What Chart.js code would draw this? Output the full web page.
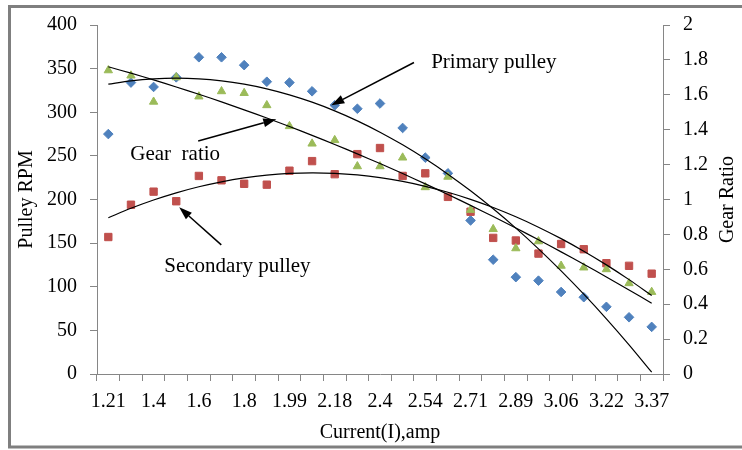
<!DOCTYPE html>
<html><head><meta charset="utf-8">
<script src="https://cdn.jsdelivr.net/npm/chart.js@4.4.0/dist/chart.umd.min.js"></script>
<style>html,body{margin:0;padding:0;background:#fff}#wrap{width:742px;height:450px;position:relative}</style>
</head><body><div id="wrap"><canvas id="c" width="742" height="450"></canvas></div>
<script>
// Categories (current, amp) - only every other category is labelled in the source chart
const currentLabels = ['1.21','','1.4','','1.6','','1.8','','1.99','','2.18','','2.4','','2.54','','2.71','','2.89','','3.06','','3.22','','3.37'];
// Primary pulley RPM (left axis)
const primaryRPM = [275,334,329,340,363,363,354,335,334,324,308,304,310,282,248,230,176,131,111,107,94,88,77,65,54];
// Secondary pulley RPM (left axis)
const secondaryRPM = [157,194,209,198,227,222,218,217,233,244,229,252,259,227,230,203,186,156,153,138,149,143,127,124,115];
// Gear ratio (right axis)
const gearRatio = [1.74,1.71,1.56,1.70,1.59,1.62,1.61,1.54,1.42,1.32,1.34,1.19,1.19,1.24,1.07,1.13,0.94,0.83,0.72,0.76,0.62,0.61,0.60,0.52,0.47];
// Axis ranges
const rpmAxis = {min:0, max:400, step:50};
const ratioAxis = {min:0, max:2, step:0.2};

// Polynomial (order 2) least-squares trendline, as in the source's trendlines
function quadTrend(ys){
  const n = ys.length;
  let S=[0,0,0,0,0], T=[0,0,0];
  for(let i=0;i<n;i++){
    const x=i+1, y=ys[i];
    let p=1;
    for(let k=0;k<5;k++){ S[k]+=p; if(k<3) T[k]+=p*y; p*=x; }
  }
  const A=[[S[0],S[1],S[2],T[0]],[S[1],S[2],S[3],T[1]],[S[2],S[3],S[4],T[2]]];
  for(let c=0;c<3;c++){
    let piv=c; for(let r=c+1;r<3;r++) if(Math.abs(A[r][c])>Math.abs(A[piv][c])) piv=r;
    [A[c],A[piv]]=[A[piv],A[c]];
    for(let r=0;r<3;r++){ if(r===c) continue; const f=A[r][c]/A[c][c]; for(let k=c;k<4;k++) A[r][k]-=f*A[c][k]; }
  }
  const a0=A[0][3]/A[0][0], a1=A[1][3]/A[1][1], a2=A[2][3]/A[2][2];
  return ys.map((_,i)=>{const x=i+1; return a0+a1*x+a2*x*x;});
}

const FONT = 'Liberation Serif, Times New Roman, serif';
Chart.defaults.color = '#000';
Chart.defaults.font.family = FONT;
const AX = '#868686';

const overlay = {
  id:'overlay',
  afterDatasetsDraw(chart){
    const ctx = chart.ctx, x = chart.scales.x, y = chart.scales.y;
    const P = (i,v)=>[x.getPixelForValue(i), y.getPixelForValue(v)];
    function arrow(from,to){
      const [x1,y1]=from,[x2,y2]=to;
      const ang=Math.atan2(y2-y1,x2-x1), L=13, W=4.5;
      const bx=x2-L*Math.cos(ang), by=y2-L*Math.sin(ang);
      ctx.save(); ctx.strokeStyle='#000'; ctx.fillStyle='#000'; ctx.lineWidth=1.5;
      ctx.beginPath(); ctx.moveTo(x1,y1); ctx.lineTo(bx,by); ctx.stroke();
      ctx.beginPath(); ctx.moveTo(x2,y2);
      ctx.lineTo(bx+W*Math.sin(ang), by-W*Math.cos(ang));
      ctx.lineTo(bx-W*Math.sin(ang), by+W*Math.cos(ang));
      ctx.closePath(); ctx.fill(); ctx.restore();
    }
    function label(text,pt){
      ctx.save(); ctx.font='21px '+FONT; ctx.fillStyle='#000'; ctx.textAlign='left'; ctx.textBaseline='middle';
      ctx.fillText(text,pt[0],pt[1]); ctx.restore();
    }
    arrow(P(13.5,357),P(9.85,308));
    label('Primary pulley',P(14.26,357));
    arrow(P(3.97,267),P(7.42,292));
    label('Gear  ratio',P(0.97,252));
    arrow(P(4.99,148),P(3.13,191));
    label('Secondary pulley',P(2.47,123));
  },
  afterDraw(chart){
    const ctx = chart.ctx, ca = chart.chartArea;
    ctx.save();
    ctx.font='20px '+FONT; ctx.fillStyle='#000'; ctx.textAlign='center'; ctx.textBaseline='middle';
    ctx.translate(728,(ca.top+ca.bottom)/2); ctx.rotate(-Math.PI/2);
    ctx.fillText('Gear Ratio',0,0);
    ctx.restore();
    ctx.save(); ctx.strokeStyle='#7f7f7f'; ctx.lineWidth=3;
    ctx.strokeRect(9.5,6.5,800,440.5); ctx.restore();
  }
};

new Chart(document.getElementById('c'), {
  type:'line',
  data:{
    labels: currentLabels,
    datasets:[
      {label:'Primary pulley', data:primaryRPM, yAxisID:'y', showLine:false, order:3,
       pointStyle:'rectRot', pointRadius:4.8, backgroundColor:'#4F81BD', borderColor:'#4F81BD', pointBorderWidth:1},
      {label:'Secondary pulley', data:secondaryRPM, yAxisID:'y', showLine:false, order:2,
       pointStyle:'rect', pointRadius:5.2, backgroundColor:'#C0504D', borderColor:'#C0504D', pointBorderWidth:1},
      {label:'Gear ratio', data:gearRatio, yAxisID:'y1', showLine:false, order:1,
       pointStyle:'triangle', pointRadius:4.8, backgroundColor:'#9BBB59', borderColor:'#9BBB59', pointBorderWidth:1},
      {label:'Primary trend', data:quadTrend(primaryRPM), yAxisID:'y', order:0, pointRadius:0, borderColor:'#000', borderWidth:1.2, tension:0.3},
      {label:'Secondary trend', data:quadTrend(secondaryRPM), yAxisID:'y', order:0, pointRadius:0, borderColor:'#000', borderWidth:1.2, tension:0.3},
      {label:'Gear trend', data:quadTrend(gearRatio), yAxisID:'y1', order:0, pointRadius:0, borderColor:'#000', borderWidth:1.2, tension:0.3}
    ]
  },
  options:{
    responsive:false, animation:false, devicePixelRatio:1,
    layout:{padding:{left:12, top:22, right:0, bottom:0}},
    plugins:{legend:{display:false}, tooltip:{enabled:false}},
    scales:{
      x:{type:'category', offset:true,
        grid:{display:true, drawOnChartArea:false, offset:true, tickLength:7, color:AX, lineWidth:1},
        border:{color:AX, width:1},
        ticks:{autoSkip:false, maxRotation:0, minRotation:0, padding:9, font:{size:20}},
        title:{display:true, text:'Current(I),amp', font:{size:20}, padding:{top:0,bottom:5}},
        afterFit(s){ s.height = 76; }
      },
      y:{position:'left', min:rpmAxis.min, max:rpmAxis.max,
        grid:{display:true, drawOnChartArea:false, tickLength:7, color:AX},
        border:{color:AX, width:1},
        ticks:{stepSize:rpmAxis.step, padding:13, font:{size:20}},
        title:{display:true, text:'Pulley RPM', font:{size:20}, padding:{top:3,bottom:0}},
        afterFit(s){ s.width = 85; }
      },
      y1:{position:'right', min:ratioAxis.min, max:ratioAxis.max,
        grid:{display:true, drawOnChartArea:false, tickLength:7, color:AX},
        border:{color:AX, width:1},
        ticks:{stepSize:ratioAxis.step, padding:13, font:{size:20},
          callback:(v)=>String(Math.round(v*10)/10)},
        afterFit(s){ s.width = 79; }
      }
    }
  },
  plugins:[overlay]
});
</script></body></html>
